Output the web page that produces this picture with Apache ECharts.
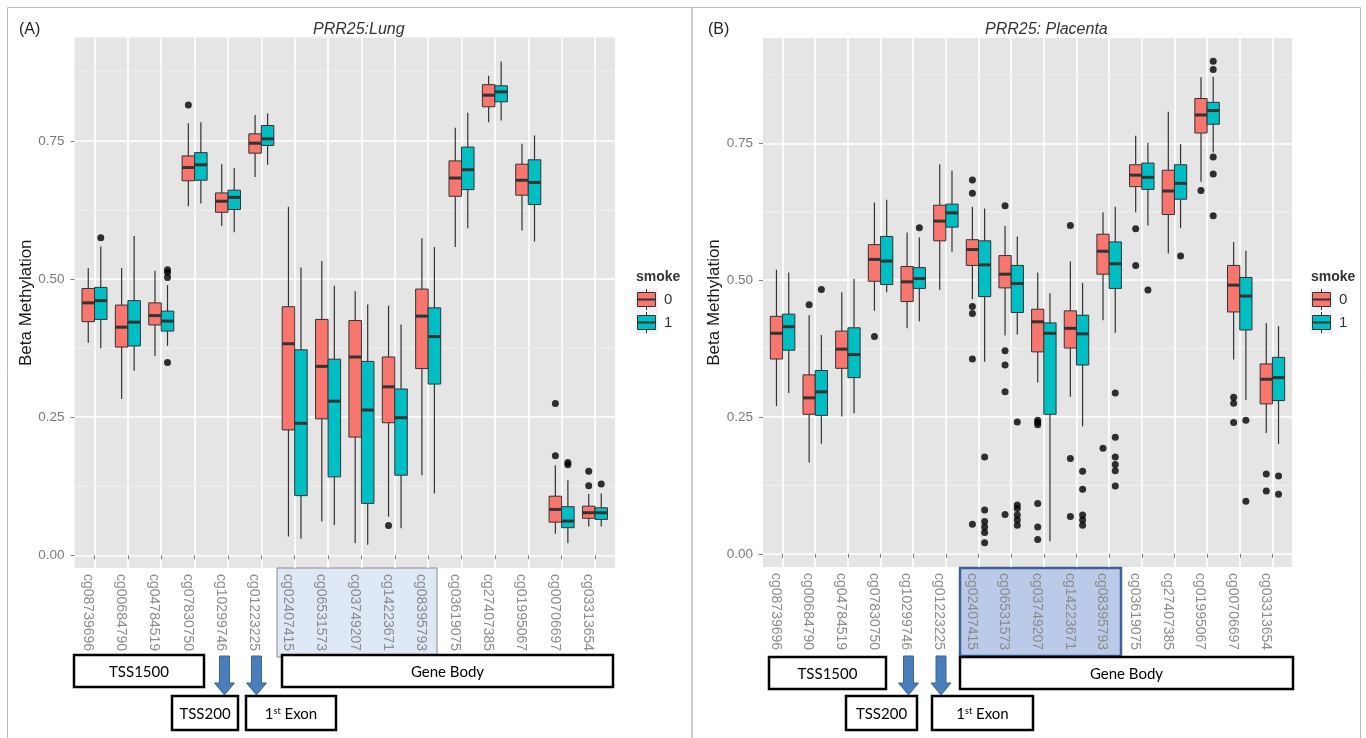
<!DOCTYPE html>
<html>
<head>
<meta charset="utf-8">
<script src="https://cdn.jsdelivr.net/npm/echarts@6/dist/echarts.min.js"></script>
<style>
  html, body { margin: 0; padding: 0; background: #fff; }
  #chart { width: 1366px; height: 738px; }
</style>
</head>
<body>
<div id="chart"></div>
<script>
// CpG probes along PRR25
const categories = [
  'cg08739696', 'cg00684790', 'cg04784519', 'cg07830750', 'cg10299746', 'cg01223225',
  'cg02407415', 'cg06531573', 'cg03749207', 'cg14223671', 'cg08395793', 'cg03619075',
  'cg27407385', 'cg01995067', 'cg00706697', 'cg03313654'
];
const smokeLevels = ['0', '1'];
const yTicks = [0, 0.25, 0.5, 0.75];
const minorBreaks = [0.125, 0.375, 0.625, 0.875];

// box stats: [lower whisker, q1, median, q3, upper whisker]
const lungSmoke0 = [
  [0.385, 0.423, 0.457, 0.483, 0.520], [0.283, 0.377, 0.413, 0.453, 0.520],
  [0.361, 0.417, 0.434, 0.457, 0.515], [0.632, 0.678, 0.702, 0.723, 0.782],
  [0.596, 0.621, 0.641, 0.656, 0.708], [0.685, 0.728, 0.746, 0.763, 0.797],
  [0.034, 0.227, 0.383, 0.450, 0.631], [0.061, 0.247, 0.342, 0.427, 0.533],
  [0.022, 0.214, 0.359, 0.425, 0.478], [0.070, 0.240, 0.305, 0.359, 0.452],
  [0.145, 0.338, 0.433, 0.482, 0.574], [0.558, 0.650, 0.683, 0.714, 0.774],
  [0.784, 0.812, 0.833, 0.852, 0.868], [0.588, 0.652, 0.679, 0.708, 0.745],
  [0.039, 0.060, 0.083, 0.107, 0.163], [0.052, 0.067, 0.077, 0.089, 0.111]
];
const lungSmoke1 = [
  [0.375, 0.427, 0.461, 0.485, 0.559], [0.334, 0.379, 0.422, 0.461, 0.578],
  [0.379, 0.406, 0.424, 0.442, 0.489], [0.637, 0.679, 0.707, 0.729, 0.784],
  [0.585, 0.626, 0.648, 0.661, 0.701], [0.707, 0.742, 0.754, 0.778, 0.800],
  [0.030, 0.108, 0.239, 0.372, 0.521], [0.055, 0.142, 0.279, 0.355, 0.488],
  [0.019, 0.094, 0.263, 0.351, 0.454], [0.049, 0.145, 0.249, 0.301, 0.418],
  [0.112, 0.310, 0.396, 0.448, 0.558], [0.592, 0.662, 0.698, 0.739, 0.801],
  [0.787, 0.821, 0.839, 0.850, 0.894], [0.568, 0.635, 0.675, 0.716, 0.760],
  [0.022, 0.050, 0.062, 0.088, 0.136], [0.052, 0.065, 0.077, 0.086, 0.112]
];
// outliers: [probe number, beta]
const lungOut0 = [[4, 0.815], [10, 0.054], [15, 0.275], [15, 0.180], [16, 0.152], [16, 0.126]];
const lungOut1 = [[1, 0.575], [3, 0.517], [3, 0.512], [3, 0.503], [3, 0.349], [15, 0.168], [15, 0.164], [16, 0.129]];

const placentaSmoke0 = [
  [0.270, 0.356, 0.403, 0.434, 0.519], [0.167, 0.255, 0.285, 0.327, 0.436],
  [0.251, 0.339, 0.374, 0.407, 0.478], [0.444, 0.498, 0.538, 0.565, 0.642],
  [0.412, 0.461, 0.497, 0.525, 0.587], [0.482, 0.572, 0.608, 0.637, 0.712],
  [0.465, 0.527, 0.556, 0.574, 0.634], [0.399, 0.486, 0.511, 0.545, 0.599],
  [0.313, 0.369, 0.424, 0.447, 0.514], [0.287, 0.376, 0.412, 0.444, 0.534],
  [0.427, 0.511, 0.553, 0.584, 0.624], [0.624, 0.671, 0.692, 0.711, 0.764],
  [0.549, 0.620, 0.663, 0.701, 0.808], [0.680, 0.769, 0.802, 0.832, 0.871],
  [0.355, 0.442, 0.491, 0.527, 0.570], [0.221, 0.274, 0.319, 0.347, 0.422]
];
const placentaSmoke1 = [
  [0.294, 0.372, 0.415, 0.438, 0.514], [0.201, 0.253, 0.296, 0.335, 0.400],
  [0.257, 0.322, 0.364, 0.413, 0.502], [0.478, 0.492, 0.535, 0.580, 0.647],
  [0.425, 0.485, 0.503, 0.523, 0.578], [0.552, 0.597, 0.623, 0.639, 0.700],
  [0.351, 0.470, 0.528, 0.572, 0.631], [0.401, 0.441, 0.494, 0.527, 0.580],
  [0.023, 0.255, 0.403, 0.422, 0.476], [0.233, 0.345, 0.402, 0.436, 0.495],
  [0.404, 0.485, 0.530, 0.570, 0.634], [0.600, 0.666, 0.688, 0.714, 0.751],
  [0.595, 0.648, 0.677, 0.711, 0.749], [0.734, 0.785, 0.810, 0.825, 0.872],
  [0.281, 0.409, 0.471, 0.505, 0.554], [0.201, 0.280, 0.322, 0.359, 0.416]
];
const placentaOut0 = [
  [2, 0.455], [4, 0.397], [7, 0.683], [7, 0.659], [7, 0.452], [7, 0.439], [7, 0.356], [7, 0.054],
  [8, 0.636], [8, 0.371], [8, 0.345], [8, 0.296], [8, 0.072],
  [9, 0.244], [9, 0.240], [9, 0.236], [9, 0.092], [9, 0.049], [9, 0.026],
  [10, 0.600], [10, 0.174], [10, 0.068], [11, 0.193], [12, 0.594], [12, 0.527],
  [14, 0.664], [15, 0.286], [15, 0.275], [15, 0.240], [16, 0.146], [16, 0.115]
];
const placentaOut1 = [
  [2, 0.483], [5, 0.596], [7, 0.177], [7, 0.080], [7, 0.059], [7, 0.049], [7, 0.039], [7, 0.020],
  [8, 0.241], [8, 0.089], [8, 0.083], [8, 0.071], [8, 0.062], [8, 0.052],
  [10, 0.151], [10, 0.118], [10, 0.071], [10, 0.062], [10, 0.052],
  [11, 0.294], [11, 0.213], [11, 0.177], [11, 0.163], [11, 0.152], [11, 0.124],
  [12, 0.482], [13, 0.544], [14, 0.900], [14, 0.885], [14, 0.725], [14, 0.694], [14, 0.618],
  [15, 0.244], [15, 0.096], [16, 0.142], [16, 0.109]
];

const colors = ['#F8766D', '#00BFC4'];
const outline = '#333333';
const boxWidth = 0.375;
const dodge = 0.1875;
const font = '"Liberation Sans", Arial, sans-serif';
const tickPos = categories.map((_, i) => i + 1);

const chart = echarts.init(document.getElementById('chart'));

function boxSeries(name, gi, stats, offset, color) {
  return {
    type: 'custom', name: name, xAxisIndex: gi, yAxisIndex: gi, z: 3, silent: true,
    data: stats.map((d, i) => [i + 1].concat(d)),
    encode: { x: 0, y: [1, 2, 3, 4, 5] },
    renderItem: function (params, api) {
      const c = api.value(0) + offset;
      const lo = api.coord([c, api.value(1)]);
      const q1 = api.coord([c, api.value(2)]);
      const md = api.coord([c, api.value(3)]);
      const q3 = api.coord([c, api.value(4)]);
      const hi = api.coord([c, api.value(5)]);
      const half = api.size([boxWidth, 0])[0] / 2;
      const cx = lo[0];
      const ws = { stroke: outline, lineWidth: 1.2 };
      return {
        type: 'group',
        children: [
          { type: 'line', shape: { x1: cx, y1: q3[1], x2: cx, y2: hi[1] }, style: ws },
          { type: 'line', shape: { x1: cx, y1: q1[1], x2: cx, y2: lo[1] }, style: ws },
          { type: 'rect', shape: { x: cx - half, y: q3[1], width: half * 2, height: q1[1] - q3[1] },
            style: { fill: color, stroke: outline, lineWidth: 1 } },
          { type: 'line', shape: { x1: cx - half, y1: md[1], x2: cx + half, y2: md[1] },
            style: { stroke: outline, lineWidth: 3 } }
        ]
      };
    }
  };
}

function outlierSeries(name, gi, pts, offset) {
  return {
    type: 'scatter', name: name, xAxisIndex: gi, yAxisIndex: gi, z: 4, silent: true,
    symbolSize: 7, itemStyle: { color: '#000' },
    data: pts.map(p => [p[0] + offset, p[1]])
  };
}

function minorGrid(gi) {
  return {
    type: 'custom', xAxisIndex: gi, yAxisIndex: gi, z: 1, silent: true,
    data: minorBreaks.map(v => [1, v]),
    renderItem: function (params, api) {
      const cs = params.coordSys;
      const y = api.coord([1, api.value(1)])[1];
      return { type: 'line', shape: { x1: cs.x, y1: y, x2: cs.x + cs.width, y2: y },
        style: { stroke: '#F2F2F2', lineWidth: 1 } };
    }
  };
}

function xAxisFor(gi) {
  return {
    type: 'value', gridIndex: gi, min: 0.4, max: 16.6,
    axisLine: { show: false },
    axisTick: { show: true, customValues: tickPos, length: 4, lineStyle: { color: '#7f7f7f' } },
    axisLabel: {
      customValues: tickPos, rotate: -90, margin: 6, verticalAlign: 'top',
      color: '#8c8c8c', fontSize: 14, fontFamily: font,
      formatter: v => categories[Math.round(v) - 1]
    },
    splitLine: { show: true, lineStyle: { color: '#ffffff', width: 1.6 } }
  };
}

function yAxisFor(gi, min, max) {
  return {
    type: 'value', gridIndex: gi, min: min, max: max,
    name: 'Beta Methylation', nameLocation: 'middle', nameGap: 40, nameRotate: 90,
    nameTextStyle: { color: '#1a1a1a', fontSize: 17, fontFamily: font },
    axisLine: { show: false },
    axisTick: { show: true, customValues: yTicks, length: 4, lineStyle: { color: '#7f7f7f' } },
    axisLabel: { customValues: yTicks, margin: 10, color: '#7a7a7a', fontSize: 13.5, fontFamily: font,
      formatter: v => v.toFixed(2) },
    splitLine: { show: true, lineStyle: { color: '#ffffff', width: 1.6 } }
  };
}

function legendKeys(x, y) {
  const els = [{ type: 'text', x: x, y: y,
    style: { text: 'smoke', font: 'bold 14px ' + font, fill: '#333', verticalAlign: 'middle' } }];
  smokeLevels.forEach((lvl, i) => {
    const ky = y + 11 + i * 23;
    els.push({ type: 'rect', shape: { x: x - 1, y: ky, width: 23, height: 23 }, style: { fill: '#F2F2F2' } });
    els.push({ type: 'line', shape: { x1: x + 10.5, y1: ky + 1, x2: x + 10.5, y2: ky + 22 },
      style: { stroke: outline, lineWidth: 1 } });
    els.push({ type: 'rect', shape: { x: x + 1.5, y: ky + 4.5, width: 18, height: 14 },
      style: { fill: colors[i], stroke: outline, lineWidth: 1 } });
    els.push({ type: 'line', shape: { x1: x + 1.5, y1: ky + 11.5, x2: x + 19.5, y2: ky + 11.5 },
      style: { stroke: outline, lineWidth: 2 } });
    els.push({ type: 'text', x: x + 28, y: ky + 12,
      style: { text: lvl, font: '15px ' + font, fill: '#333', verticalAlign: 'middle' } });
  });
  return els;
}

function regionBox(x, y, w, h, text) {
  return [
    { type: 'rect', shape: { x: x, y: y, width: w, height: h },
      style: { fill: '#fff', stroke: '#000', lineWidth: 2.5 } },
    { type: 'text', x: x + w / 2, y: y + h / 2 + 1,
      style: { text: text, font: '15px Lato, sans-serif', fill: '#000', align: 'center', verticalAlign: 'middle' } }
  ];
}

function exonBox(x, y, w, h) {
  return [
    { type: 'rect', shape: { x: x, y: y, width: w, height: h },
      style: { fill: '#fff', stroke: '#000', lineWidth: 2.5 } },
    { type: 'text', x: x + w / 2, y: y + h / 2 + 1,
      style: { text: '{a|1}{s|st}{a| Exon}', align: 'center', verticalAlign: 'middle',
        rich: { a: { fontSize: 15, fontFamily: 'Lato', color: '#000' },
                s: { fontSize: 9, fontFamily: 'Lato', color: '#000', verticalAlign: 'top' } } } }
  ];
}

function arrow(cx, y0, y2) {
  const y1 = y2 - 12;
  return { type: 'polygon',
    shape: { points: [[cx - 5, y0], [cx + 5, y0], [cx + 5, y1], [cx + 10, y1], [cx, y2], [cx - 10, y1], [cx - 5, y1]] },
    style: { fill: '#4A7EBB', stroke: '#3B6594', lineWidth: 1 } };
}

const graphics = [
  { type: 'rect', shape: { x: 7.5, y: 7.5, width: 684.5, height: 740 }, style: { fill: 'none', stroke: '#bdbdbd', lineWidth: 1 } },
  { type: 'rect', shape: { x: 692, y: 7.5, width: 668.5, height: 740 }, style: { fill: 'none', stroke: '#bdbdbd', lineWidth: 1 } },
  // highlighted gene-body probes
  { type: 'rect', shape: { x: 277, y: 568, width: 160, height: 89 },
    style: { fill: 'rgba(190,210,238,0.5)', stroke: '#8c8c8c', lineWidth: 1 } },
  { type: 'rect', shape: { x: 960, y: 568, width: 161, height: 88 },
    style: { fill: 'rgba(120,150,210,0.5)', stroke: '#3F6197', lineWidth: 2.5 } }
]
  .concat(legendKeys(636, 277), legendKeys(1311, 277))
  .concat(regionBox(74, 655, 130, 32, 'TSS1500'), regionBox(282, 655, 331, 32, 'Gene Body'),
          regionBox(172, 696, 66, 34, 'TSS200'), exonBox(246, 696, 90, 34))
  .concat([arrow(224.5, 656, 695), arrow(256.5, 656, 695)])
  .concat(regionBox(769, 657, 117, 32, 'TSS1500'), regionBox(960, 657, 333, 32, 'Gene Body'),
          regionBox(846, 696, 71, 34, 'TSS200'), exonBox(932, 696, 101, 34))
  .concat([arrow(908.5, 656, 695), arrow(941, 656, 695)]);

chart.setOption({
  animation: false,
  title: [
    { text: '(A)', left: 14, top: 17, textStyle: { fontSize: 16, fontWeight: 'normal', color: '#222', fontFamily: font } },
    { text: 'PRR25:Lung', left: 308, top: 17, textStyle: { fontSize: 16, fontWeight: 'normal', fontStyle: 'italic', color: '#333', fontFamily: font } },
    { text: '(B)', left: 703, top: 17, textStyle: { fontSize: 16, fontWeight: 'normal', color: '#222', fontFamily: font } },
    { text: 'PRR25: Placenta', left: 980, top: 17, textStyle: { fontSize: 16, fontWeight: 'normal', fontStyle: 'italic', color: '#333', fontFamily: font } }
  ],
  grid: [
    { left: 74.5, top: 37.5, width: 540.5, height: 530.5, show: true, backgroundColor: '#E5E5E5', borderWidth: 0 },
    { left: 763, top: 38, width: 529, height: 529, show: true, backgroundColor: '#E5E5E5', borderWidth: 0 }
  ],
  xAxis: [xAxisFor(0), xAxisFor(1)],
  yAxis: [yAxisFor(0, -0.023, 0.9374), yAxisFor(1, -0.0241, 0.9426)],
  graphic: graphics,
  series: [
    minorGrid(0), minorGrid(1),
    boxSeries('smoke 0', 0, lungSmoke0, -dodge, colors[0]),
    boxSeries('smoke 1', 0, lungSmoke1, dodge, colors[1]),
    boxSeries('smoke 0', 1, placentaSmoke0, -dodge, colors[0]),
    boxSeries('smoke 1', 1, placentaSmoke1, dodge, colors[1]),
    outlierSeries('smoke 0 outliers', 0, lungOut0, -dodge),
    outlierSeries('smoke 1 outliers', 0, lungOut1, dodge),
    outlierSeries('smoke 0 outliers', 1, placentaOut0, -dodge),
    outlierSeries('smoke 1 outliers', 1, placentaOut1, dodge)
  ]
});
</script>
</body>
</html>
